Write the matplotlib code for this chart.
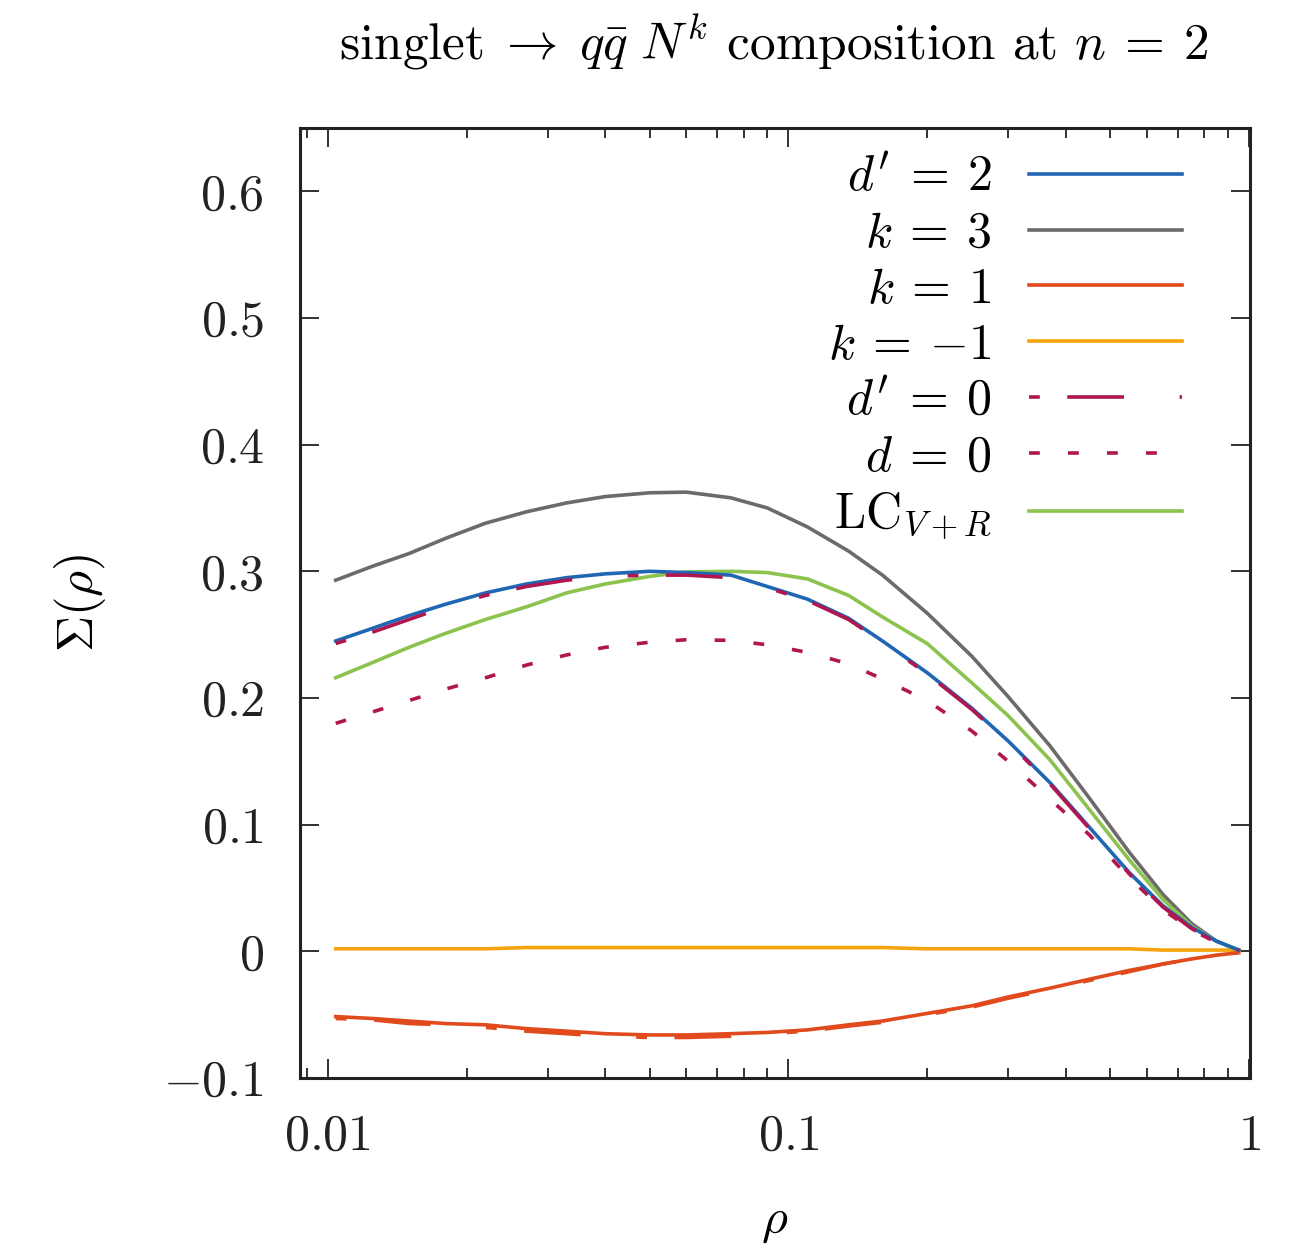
import matplotlib
matplotlib.use("Agg")
import matplotlib.pyplot as plt
from matplotlib.ticker import FixedLocator, FixedFormatter, LogLocator, NullFormatter

plt.rcParams["font.family"] = "serif"
plt.rcParams["font.serif"] = ["cmr10", "DejaVu Serif"]
plt.rcParams["mathtext.fontset"] = "cm"
plt.rcParams["axes.unicode_minus"] = True

# rho grid shared by all curves
rho = [0.0104, 0.0125, 0.015, 0.018, 0.022, 0.027, 0.033, 0.04, 0.05, 0.06,
       0.075, 0.09, 0.11, 0.135, 0.16, 0.2, 0.25, 0.3, 0.37, 0.45,
       0.55, 0.65, 0.75, 0.85, 0.95]

dp2 = [0.245, 0.255, 0.265, 0.274, 0.283, 0.290, 0.295, 0.298, 0.300, 0.299,
       0.297, 0.288, 0.278, 0.263, 0.245, 0.220, 0.192, 0.166, 0.133, 0.098,
       0.062, 0.036, 0.019, 0.008, 0.001]
k3 = [0.293, 0.304, 0.314, 0.326, 0.338, 0.347, 0.354, 0.359, 0.362, 0.3625,
      0.358, 0.350, 0.335, 0.316, 0.297, 0.267, 0.233, 0.201, 0.162, 0.121,
      0.078, 0.045, 0.022, 0.008, 0.001]
k1 = [-0.0515, -0.053, -0.055, -0.057, -0.058, -0.061, -0.063, -0.065, -0.066, -0.066,
      -0.065, -0.064, -0.062, -0.058, -0.055, -0.049, -0.043, -0.036, -0.029, -0.022,
      -0.015, -0.010, -0.006, -0.003, -0.001]
k1_alt = [-0.053, -0.054, -0.057, -0.058, -0.060, -0.063, -0.065, -0.067, -0.068, -0.068,
          -0.067, -0.065, -0.063, -0.059, -0.056, -0.050, -0.044, -0.037, -0.030, -0.023,
          -0.016, -0.010, -0.006, -0.003, -0.001]
km1 = [0.002, 0.002, 0.002, 0.002, 0.002, 0.003, 0.003, 0.003, 0.003, 0.003,
       0.003, 0.003, 0.003, 0.003, 0.003, 0.002, 0.002, 0.002, 0.002, 0.002,
       0.002, 0.001, 0.001, 0.001, 0.001]
dp0 = [0.243, 0.252, 0.262, 0.272, 0.281, 0.288, 0.293, 0.296, 0.297, 0.297,
       0.295, 0.287, 0.277, 0.262, 0.244, 0.219, 0.191, 0.165, 0.132, 0.097,
       0.061, 0.035, 0.018, 0.007, 0.001]
d0 = [0.180, 0.189, 0.198, 0.207, 0.216, 0.226, 0.234, 0.240, 0.244, 0.246,
      0.2455, 0.242, 0.236, 0.227, 0.215, 0.198, 0.174, 0.150, 0.120, 0.092,
      0.058, 0.033, 0.017, 0.007, 0.001]
lc = [0.216, 0.228, 0.240, 0.251, 0.262, 0.272, 0.283, 0.290, 0.296, 0.2995,
      0.300, 0.299, 0.294, 0.281, 0.264, 0.243, 0.212, 0.186, 0.151, 0.112,
      0.072, 0.041, 0.020, 0.008, 0.001]

yticks = [-0.1, 0, 0.1, 0.2, 0.3, 0.4, 0.5, 0.6]
ytick_labels = [r"$-0.1$", r"$0$", r"$0.1$", r"$0.2$", r"$0.3$", r"$0.4$", r"$0.5$", r"$0.6$"]
xticks = [0.01, 0.1, 1]
xtick_labels = [r"$0.01$", r"$0.1$", r"$1$"]

fig = plt.figure(figsize=(13.05, 12.47), dpi=100)
ax = fig.add_axes([0.2299, 0.1355, 0.7280, 0.7619])

lw = 2.6
ax.plot(rho, dp2, color="#1f66b3", lw=lw, label=r"$d'\:=\:2$", zorder=4)
ax.plot(rho, k3, color="#6b6b6b", lw=lw, label=r"$k\:=\:3$", zorder=3)
ax.plot(rho, k1, color="#e04a1c", lw=lw, label=r"$k\:=\:1$", zorder=3)
ax.plot(rho, km1, color="#f5a40c", lw=lw, label=r"$k\:=\:{-1}$", zorder=3)
ax.plot(rho, dp0, color="#b0164f", lw=lw, dashes=(3.0, 7.6, 15.7, 15.4),
        dash_capstyle="butt", label=r"$d'\:=\:0$", zorder=5)
ax.plot(rho, d0, color="#b0164f", lw=lw, dashes=(3.0, 7.8),
        dash_capstyle="butt", label=r"$d\:=\:0$", zorder=5)
ax.plot(rho, lc, color="#8cc34f", lw=lw, label=r"$\mathrm{LC}_{V+R}$", zorder=3)
ax.plot(rho, k1_alt, color="#e04a1c", lw=lw, dashes=(3.0, 7.6, 15.7, 15.4),
        dash_capstyle="butt", zorder=3)

ax.set_xscale("log")
ax.set_xlim(0.0087, 1.005)
ax.set_ylim(-0.1, 0.65)

ax.xaxis.set_major_locator(FixedLocator(xticks))
ax.xaxis.set_major_formatter(FixedFormatter(xtick_labels))
ax.xaxis.set_minor_locator(LogLocator(base=10, subs=range(2, 10)))
ax.xaxis.set_minor_formatter(NullFormatter())
ax.yaxis.set_major_locator(FixedLocator(yticks))
ax.yaxis.set_major_formatter(FixedFormatter(ytick_labels))

ax.tick_params(which="both", direction="in", top=True, right=True, width=1.3,
               colors="#222222")
ax.tick_params(which="major", length=14, labelsize=36)
ax.tick_params(axis="y", which="major", pad=26)
ax.tick_params(axis="x", which="major", pad=26)
ax.tick_params(which="minor", length=7)
for s in ax.spines.values():
    s.set_linewidth(2.2)
    s.set_color("#222222")

ax.set_xlabel(r"$\rho$", fontsize=36, labelpad=28)
ax.set_ylabel(r"$\Sigma(\rho)$", fontsize=36, labelpad=40)
fig.text(0.593, 0.966, r"singlet$\;\rightarrow\;q\bar{q}\ N^k$ composition at $n\:=\:2$",
         fontsize=37, ha="center", va="center")

leg = ax.legend(loc="upper right", bbox_to_anchor=(0.965, 1.008), frameon=False,
                markerfirst=False, fontsize=36, handlelength=3.05,
                handletextpad=0.75, labelspacing=0.2, borderpad=0.2)

fig.savefig("out.png", dpi=100)
